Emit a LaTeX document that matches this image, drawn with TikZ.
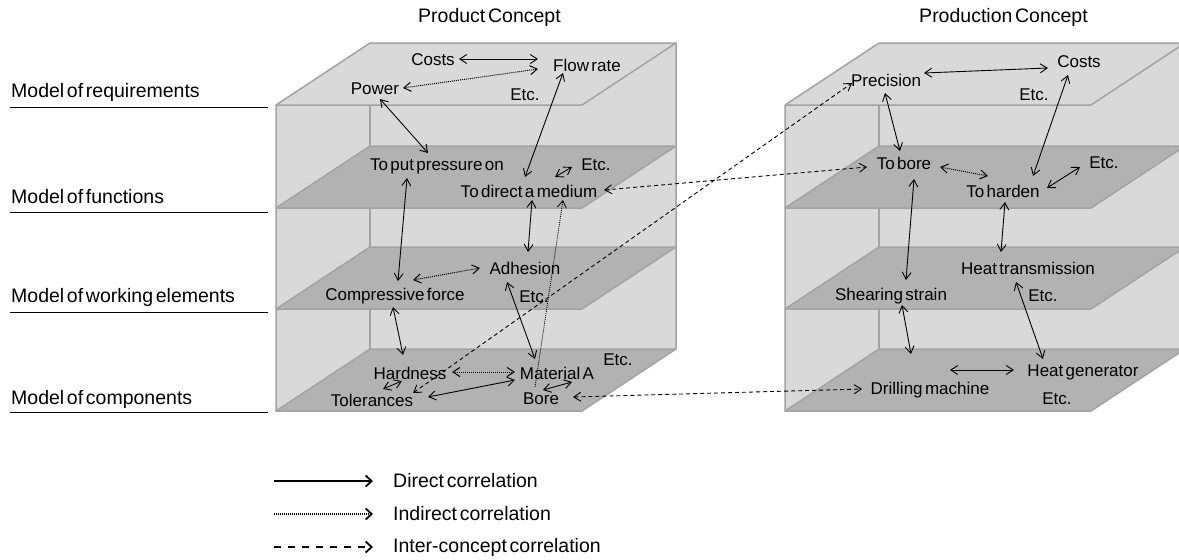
\documentclass[tikz,border=0pt]{standalone}
\usepackage{fontspec}
\setmainfont{Liberation Sans}[WordSpace=0.5]
\usetikzlibrary{arrows.meta,calc}

\definecolor{boxfill}{HTML}{D9D9D9}
\definecolor{layerfill}{HTML}{B2B2B2}
\definecolor{edgegray}{HTML}{A3A3A3}

\tikzset{
  x=1pt, y=-1pt,
  lbl/.style={font=\fontsize{17}{20}\selectfont, inner sep=0pt},
  big/.style={font=\fontsize{19.5}{22}\selectfont, inner sep=0pt},
  barb/.tip={Straight Barb[length=7pt,width=9pt]},
  dirarrow/.style={line width=0.9pt, barb-barb},
  indarrow/.style={line width=1pt, dash pattern=on 1pt off 1pt, barb-barb},
  indone/.style={line width=0.8pt, dash pattern=on 1pt off 1pt, -barb},
  interarrow/.style={line width=0.9pt, dash pattern=on 4pt off 3pt, barb-barb},
  legdirect/.style={line width=1.8pt, -{Straight Barb[length=6pt,width=11pt]}},
  legindirect/.style={line width=1.2pt, dash pattern=on 1pt off 1pt, -{Straight Barb[length=6pt,width=11pt,line width=1.8pt]}},
  leginter/.style={line width=1.8pt, dash pattern=on 7pt off 7pt, -{Straight Barb[length=6pt,width=11pt]}},
  % transparent box with three inner layers, origin at the front-left corner line
  conceptbox/.pic={
    \fill[boxfill] (0,105) -- (94,43) -- (400,43) -- (400,349) -- (306,411) -- (0,411) -- cycle;
    \draw[edgegray, line width=1.5pt] (94,105) -- (94,349);
    \draw[edgegray, line width=1.5pt, line join=round]
      (0,411) -- (0,105) -- (94,43) -- (400,43) -- (400,349);
    \draw[edgegray, line width=1.5pt, line join=round] (0,105) -- (306,105) -- (400,43);
    \foreach \b in {146,247,349}
      \filldraw[fill=layerfill, draw=edgegray, line width=1.5pt, line join=round]
        (0,\b+62) -- (306,\b+62) -- (400,\b) -- (94,\b) -- cycle;
  }
}

\begin{document}
\begin{tikzpicture}
\clip (0,0) rectangle (1179,560);
\fill[white] (0,0) rectangle (1179,560);

% the two concept boxes
\pic at (276,0) {conceptbox};
\pic at (785,0) {conceptbox};

% titles
\node[big, anchor=west] (prodc) at (418,17) {Product Concept};
\node[big, anchor=east] (prodnc) at (1088,17) {Production Concept};

% model levels with their underlines
\node[big, anchor=west] (mreq) at (11,92) {Model of requirements};
\node[big, anchor=west] (mfun) at (11,197) {Model of functions};
\node[big, anchor=west] (mwork) at (11,297) {Model of working elements};
\node[big, anchor=west] (mcomp) at (11,399) {Model of components};
\foreach \y in {107,212,312,412}
  \draw[line width=1pt] (10,\y) -- (268,\y);

% product concept
\node[lbl] (costsL) at (433,60) {Costs};
\node[lbl] (flow) at (587,65) {Flow rate};
\node[lbl] (power) at (375,89) {Power};
\node[lbl] (etcRL) at (525,95) {Etc.};
\node[lbl] (press) at (437,166) {To put pressure on};
\node[lbl] (etcFL) at (596,165) {Etc.};
\node[lbl] (medium) at (529,191) {To direct a medium};
\node[lbl] (adhesion) at (525,268) {Adhesion};
\node[lbl] (comp) at (395,296) {Compressive force};
\node[lbl] (etcWL) at (534,297) {Etc.};
\node[lbl] (hard) at (410,373) {Hardness};
\node[lbl] (matA) at (557,373) {Material A};
\node[lbl] (etcCL) at (618,360) {Etc.};
\node[lbl] (tol) at (372,400) {Tolerances};
\node[lbl] (bore) at (541,399) {Bore};

% production concept
\node[lbl] (prec) at (886,80) {Precision};
\node[lbl] (costsR) at (1079,62) {Costs};
\node[lbl] (etcRR) at (1034,95) {Etc.};
\node[lbl] (tobore) at (904,163) {To bore};
\node[lbl] (etcFR) at (1104,163) {Etc.};
\node[lbl] (harden) at (1003,191) {To harden};
\node[lbl] (heatT) at (1028,268) {Heat transmission};
\node[lbl] (shear) at (891,296) {Shearing strain};
\node[lbl] (etcWR) at (1043,296) {Etc.};
\node[lbl] (heatG) at (1083,372) {Heat generator};
\node[lbl] (drill) at (930,390) {Drilling machine};
\node[lbl] (etcCR) at (1057,399) {Etc.};

% correlations inside the product concept
\draw[dirarrow] ([shift={(26,-1)}]costsL.center) -- ([shift={(-49,-6)}]flow.center);
\draw[indarrow] ([shift={(28,-1)}]power.center) -- ([shift={(-49,4)}]flow.center);
\draw[dirarrow] ([shift={(5,10)}]power.center) -- ([shift={(-9,-13)}]press.center);
\draw[dirarrow] ([shift={(-24,8)}]flow.center) -- ([shift={(-4,-14)}]medium.center);
\draw[dirarrow] ([shift={(26,-14)}]medium.center) -- ([shift={(-24,2)}]etcFL.center);
\draw[dirarrow] ([shift={(-30,12)}]press.center) -- ([shift={(3,-15)}]comp.center);
\draw[dirarrow] ([shift={(3,9)}]medium.center) -- ([shift={(3,-16)}]adhesion.center);
\draw[indone] ([shift={(-6,-12)}]bore.center) -- ([shift={(34,9)}]medium.center);
\draw[indarrow] ([shift={(18,-16)}]comp.center) -- ([shift={(-45,0)}]adhesion.center);
\draw[dirarrow] ([shift={(-18,14)}]adhesion.center) -- ([shift={(-22,-14)}]matA.center);
\draw[dirarrow] ([shift={(-2,11)}]comp.center) -- ([shift={(-7,-18)}]hard.center);
\draw[indarrow] ([shift={(42,-1)}]hard.center) -- ([shift={(-42,-1)}]matA.center);
\draw[dirarrow] ([shift={(11,-11)}]tol.center) -- ([shift={(-8,8)}]hard.center);
\draw[dirarrow] ([shift={(56,-3)}]tol.center) -- ([shift={(-42,7)}]matA.center);
\draw[dirarrow] ([shift={(2,-9)}]bore.center) -- ([shift={(-46,22)}]etcCL.center);

% correlations inside the production concept
\draw[dirarrow] ([shift={(38,-7)}]prec.center) -- ([shift={(-31,6)}]costsR.center);
\draw[dirarrow] ([shift={(-1,13)}]prec.center) -- ([shift={(-4,-12)}]tobore.center);
\draw[dirarrow] ([shift={(-11,13)}]costsR.center) -- ([shift={(30,-15)}]harden.center);
\draw[indarrow] ([shift={(36,4)}]tobore.center) -- ([shift={(-15,-15)}]harden.center);
\draw[dirarrow] ([shift={(44,-3)}]harden.center) -- ([shift={(-24,4)}]etcFR.center);
\draw[dirarrow] ([shift={(10,16)}]tobore.center) -- ([shift={(15,-16)}]shear.center);
\draw[dirarrow] ([shift={(2,11)}]harden.center) -- ([shift={(-27,-16)}]heatT.center);
\draw[dirarrow] ([shift={(11,9)}]shear.center) -- ([shift={(-19,-36)}]drill.center);
\draw[dirarrow] ([shift={(-12,14)}]heatT.center) -- ([shift={(-40,-13)}]heatG.center);
\draw[dirarrow] ([shift={(20,-20)}]drill.center) -- ([shift={(-69,-2)}]heatG.center);

% inter-concept correlations
\draw[interarrow] ([shift={(75,-1)}]medium.center) -- ([shift={(-37,4)}]tobore.center);
\draw[interarrow] ([shift={(41,-7)}]tol.center) -- ([shift={(-34,3)}]prec.center);
\draw[interarrow] ([shift={(32,-2)}]bore.center) -- ([shift={(-68,-1)}]drill.center);

% legend
\node[big, anchor=west] (ldir) at (393,481) {Direct correlation};
\node[big, anchor=west] (lind) at (393,514) {Indirect correlation};
\node[big, anchor=west] (linter) at (393,547) {Inter-concept correlation};
\coordinate (lg1) at (274,481);
\coordinate (lg2) at (274,514);
\coordinate (lg3) at (274,547);
\draw[legdirect] (lg1) -- ([xshift=-20pt]ldir.west);
\draw[legindirect] (lg2) -- ([xshift=-20pt]lind.west);
\draw[leginter] (lg3) -- ([xshift=-20pt]linter.west);
\end{tikzpicture}
\end{document}
